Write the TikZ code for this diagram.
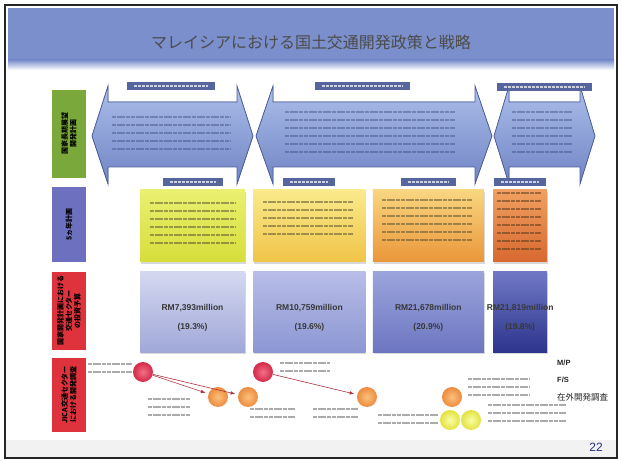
\documentclass[tikz,border=0pt]{standalone}
\usepackage{fontspec}
\setmainfont{Liberation Sans}
\newfontfamily\jp{Noto Sans CJK JP}
\usetikzlibrary{arrows, shadows, positioning}

\definecolor{bandblue}{RGB}{122,143,203}
\definecolor{labgreen}{RGB}{122,168,58}
\definecolor{labblue}{RGB}{108,112,190}
\definecolor{labred}{RGB}{222,50,60}
\definecolor{arrtop}{RGB}{172,190,234}
\definecolor{arrbot}{RGB}{112,132,196}
\definecolor{arredge}{RGB}{78,95,158}
\definecolor{tagblue}{RGB}{86,101,158}
\definecolor{linkred}{RGB}{176,48,64}
\definecolor{numblue}{RGB}{36,48,122}
\definecolor{mpin}{RGB}{242,112,134}
\definecolor{mpout}{RGB}{212,40,72}
\definecolor{fsin}{RGB}{252,192,124}
\definecolor{fsout}{RGB}{236,140,62}
\definecolor{osin}{RGB}{252,252,168}
\definecolor{osout}{RGB}{226,226,64}

% blurred lines of small print: x, y, width, lines, colour
\newcommand\txtlines[5]{%
  \foreach \k in {1,...,#4}
    \draw[#5, line width=1.8pt, dash pattern=on 4pt off 0.7pt]
      (#1,{#2+(\k-1)*8}) -- ++(#3,0);}

% double headed arrow: left tip, right tip, head length
\newcommand\dblarrow[3]{%
  \filldraw[draw=arredge, line width=0.8pt, top color=arrtop, bottom color=arrbot]
    (#1,136) -- ({#1+#3},86) -- ({#1+#3},102) -- ({#2-#3},102) -- ({#2-#3},86)
    -- (#2,136) -- ({#2-#3},184) -- ({#2-#3},167) -- ({#1+#3},167)
    -- ({#1+#3},184) -- cycle;}

\begin{document}
\begin{tikzpicture}[x=1pt,y=-1pt,>=latex]

  \tikzset{lbl/.style={rotate=90, inner sep=0pt, minimum height=34pt, align=center,
                       font=\jp\bfseries\fontsize{7}{8.5}\selectfont},
           plan/.style={minimum height=72pt, inner sep=0pt,
                        drop shadow={opacity=0.3, shadow xshift=1pt, shadow yshift=-2pt}},
           budget/.style={minimum height=81pt, inner sep=0pt,
                          drop shadow={opacity=0.3, shadow xshift=1pt, shadow yshift=-2pt}},
           amount/.style={align=center, text=black!78,
                          font=\bfseries\fontsize{8.5}{19}\selectfont},
           tag/.style={fill=tagblue, minimum height=8pt, inner sep=0pt,
                       path picture={\draw[white!70!tagblue, line width=2pt,
                         dash pattern=on 3pt off 1pt]
                         ([xshift=7pt]path picture bounding box.west) --
                         ([xshift=-7pt]path picture bounding box.east);}},
           ball/.style={circle, minimum size=20pt, inner sep=0pt},
           mp/.style={ball, inner color=mpin, outer color=mpout},
           fs/.style={ball, inner color=fsin, outer color=fsout},
           os/.style={ball, inner color=osin, outer color=osout},
           link/.style={->, draw=linkred, line width=0.6pt, shorten >=3pt},
           key/.style={anchor=west, inner sep=0pt, text=black!85}}

  \useasboundingbox (0,0) rectangle (622,462);

  % frame and title band
  \fill[white] (0,0) rectangle (622,462);
  \fill[black!5] (6,440) rectangle (616,457);
  \fill[bandblue] (8,8) rectangle (614,60);
  \shade[top color=bandblue, bottom color=white] (8,60) rectangle (614,70);
  \draw[line width=1.6pt, black!85] (5,5) rectangle (617,458);
  \node[font=\jp\fontsize{16}{16}\selectfont, text=black!70] (title) at (311,42)
    {マレイシアにおける国土交通開発政策と戦略};

  % row labels
  \node[lbl, fill=labgreen, minimum width=88pt] (longterm) at (69,134) {国家長期展望\\開発計画};
  \node[lbl, fill=labblue, minimum width=75pt] (fiveyear) at (69,224.5) {5ヵ年計画};
  \node[lbl, fill=labred, minimum width=78pt] (invest) at (69,311) {国家開発計画における\\交通セクター\\の投資予算};
  \node[lbl, fill=labred, minimum width=74pt] (jica) at (69,395) {JICA交通セクター\\における開発調査};

  % long term plans
  \dblarrow{92}{253}{16}
  \dblarrow{256}{492}{17}
  \dblarrow{494}{595}{15}
  \txtlines{112}{117}{118}{5}{arredge!80!black, opacity=0.45}
  \txtlines{285}{112}{170}{6}{arredge!80!black, opacity=0.45}
  \txtlines{512}{112}{60}{6}{arredge!80!black, opacity=0.45}
  \node[tag, minimum width=88pt] (opp1) at (171,86) {};
  \node[tag, minimum width=95pt] (opp2) at (362,86) {};
  \node[tag, minimum width=95pt] (opp3) at (544,87) {};

  % five year plans
  \node[plan, top color={rgb,255:red,234;green,240;blue,112}, bottom color={rgb,255:red,214;green,222;blue,58},
        minimum width=105pt] (plan1) at (192.5,226) {};
  \node[plan, top color={rgb,255:red,250;green,234;blue,140}, bottom color={rgb,255:red,240;green,196;blue,72},
        minimum width=112pt, right=8pt of plan1] (plan2) {};
  \node[plan, top color={rgb,255:red,249;green,214;blue,128}, bottom color={rgb,255:red,234;green,150;blue,58},
        minimum width=111pt, right=7pt of plan2] (plan3) {};
  \node[plan, top color={rgb,255:red,240;green,160;blue,96}, bottom color={rgb,255:red,216;green,104;blue,48},
        minimum width=54pt, right=9pt of plan3] (plan4) {};
  \txtlines{150}{203}{85}{6}{black!60!olive, opacity=0.5}
  \txtlines{263}{202}{90}{5}{black!60!olive, opacity=0.5}
  \txtlines{382}{200}{90}{6}{black!60!olive, opacity=0.5}
  \txtlines{497}{193}{44}{8}{black!60!brown, opacity=0.5}
  \node[tag, minimum width=60pt, above=4pt of plan1] (year1) {};
  \node[tag, minimum width=52pt, above=4pt of plan2] (year2) {};
  \node[tag, minimum width=55pt, above=4pt of plan3] (year3) {};
  \node[tag, minimum width=52pt, above=4pt of plan4] (year4) {};

  % transport budgets
  \node[budget, top color={rgb,255:red,212;green,216;blue,240}, bottom color={rgb,255:red,160;green,168;blue,216},
        minimum width=105pt, below=9pt of plan1] (fund1) {};
  \node[budget, top color={rgb,255:red,184;green,190;blue,232}, bottom color={rgb,255:red,140;green,150;blue,210},
        minimum width=112pt, below=9pt of plan2] (fund2) {};
  \node[budget, top color={rgb,255:red,156;green,164;blue,220}, bottom color={rgb,255:red,108;green,118;blue,192},
        minimum width=111pt, below=9pt of plan3] (fund3) {};
  \node[budget, top color={rgb,255:red,112;green,120;blue,198}, bottom color={rgb,255:red,44;green,52;blue,140},
        minimum width=54pt, below=9pt of plan4] (fund4) {};
  \node[amount] at ([yshift=-6pt]fund1.center) {RM7,393million\\(19.3\%)};
  \node[amount] at ([yshift=-6pt]fund2.center) {RM10,759million\\(19.6\%)};
  \node[amount] at ([yshift=-6pt]fund3.center) {RM21,678million\\(20.9\%)};
  \node[amount] at ([yshift=-6pt]fund4.center) {RM21,819million\\(19.8\%)};

  % JICA studies
  \node[mp] (mp1) at (143,372) {};
  \node[mp] (mp2) at (263,372) {};
  \node[fs] (fs1) at (218,397) {};
  \node[fs] (fs2) at (248,397) {};
  \node[fs] (fs3) at (367,397) {};
  \node[fs] (fs4) at (452,397) {};
  \node[os] (os1) at (450,420) {};
  \node[os] (os2) at (471,420) {};
  \draw[link] (mp1) -- (fs1);
  \draw[link] (mp1) -- (fs2);
  \draw[link] (mp2) -- (fs3);
  \txtlines{88}{364}{44}{2}{black!55, opacity=0.6}
  \txtlines{148}{399}{42}{3}{black!55, opacity=0.6}
  \txtlines{250}{409}{45}{2}{black!55, opacity=0.6}
  \txtlines{280}{363}{50}{2}{black!55, opacity=0.6}
  \txtlines{313}{409}{45}{2}{black!55, opacity=0.6}
  \txtlines{378}{415}{60}{2}{black!55, opacity=0.6}
  \txtlines{468}{379}{62}{3}{black!55, opacity=0.6}
  \txtlines{488}{405}{78}{3}{black!55, opacity=0.6}

  % legend and page number
  \node[key, font=\bfseries\fontsize{7.5}{8}\selectfont] (mpkey) at (557,363) {M/P};
  \node[key, font=\bfseries\fontsize{7.5}{8}\selectfont] (fskey) at (557,380) {F/S};
  \node[key, font=\jp\fontsize{8.5}{9}\selectfont] (oskey) at (557,397) {在外開発調査};
  \node[text=numblue, font=\fontsize{12}{12}\selectfont] (page) at (596,447) {22};

\end{tikzpicture}
\end{document}
